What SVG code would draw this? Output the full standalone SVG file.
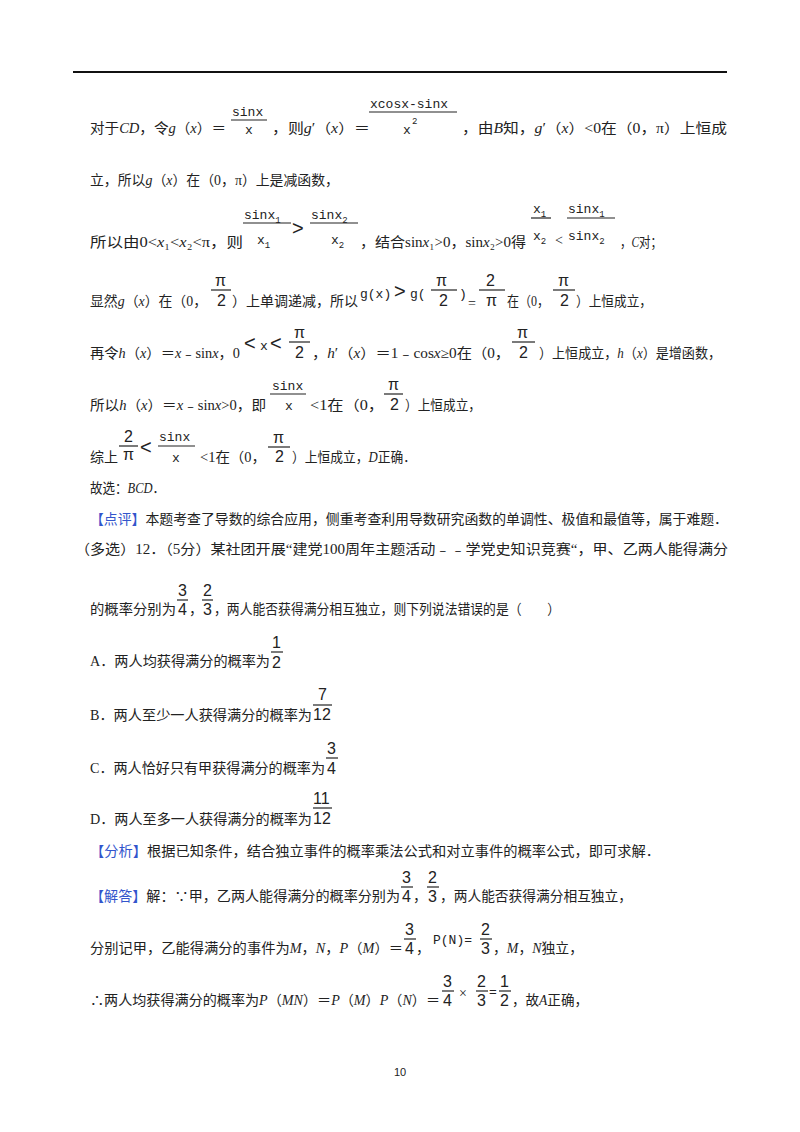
<svg xmlns="http://www.w3.org/2000/svg" width="800" height="1132" viewBox="0 0 800 1132">
<style>
text{fill:#222}
.t{font-family:"Liberation Serif","Noto Sans CJK SC",serif;font-size:14px}
.m{font-family:"Liberation Mono","DejaVu Sans Mono",monospace;font-size:13px}
.f{font-family:"Liberation Sans","Noto Sans",sans-serif;font-size:16px}
.b{fill:#3355cc}
.fl{stroke:#222;stroke-width:1.2}
.s{font-size:9px}
.lt{font-family:"Liberation Sans",sans-serif;font-size:20px}
</style>
<rect width="800" height="1132" fill="#fff"/>
<line x1="73" y1="72" x2="727" y2="72" stroke="#111" stroke-width="2"/>
<!-- row1 -->
<text class="t" x="90" y="133" textLength="136" lengthAdjust="spacingAndGlyphs">对于<tspan font-style="italic">CD</tspan>，令<tspan font-style="italic">g</tspan>（<tspan font-style="italic">x</tspan>）＝</text>
<text class="m" x="232" y="116">sinx</text><line class="fl" x1="231" y1="120" x2="267" y2="120"/><text class="m" x="245" y="134">x</text>
<text class="t" x="272" y="133" textLength="98" lengthAdjust="spacingAndGlyphs">，则<tspan font-style="italic">g</tspan>′（<tspan font-style="italic">x</tspan>）＝</text>
<text class="m" x="370" y="108">xcosx-sinx</text><line class="fl" x1="369" y1="112" x2="457" y2="112"/><text class="m" x="403" y="134">x</text><text class="m s" x="412" y="124">2</text>
<text class="t" x="462" y="133" textLength="265" lengthAdjust="spacingAndGlyphs">，由<tspan font-style="italic">B</tspan>知，<tspan font-style="italic">g</tspan>′（<tspan font-style="italic">x</tspan>）&lt;0在（0，π）上恒成</text>
<text class="t" x="90" y="185" textLength="249" lengthAdjust="spacingAndGlyphs">立，所以<tspan font-style="italic">g</tspan>（<tspan font-style="italic">x</tspan>）在（0，π）上是减函数，</text>
<!-- row3 -->
<text class="t" x="90" y="247" textLength="153" lengthAdjust="spacingAndGlyphs">所以由0&lt;<tspan font-style="italic">x</tspan>₁&lt;<tspan font-style="italic">x</tspan>₂&lt;π，则</text>
<text class="m" x="244" y="219">sinx<tspan class="s" dy="4">1</tspan></text><line class="fl" x1="243" y1="223" x2="291" y2="223"/><text class="m" x="257" y="244">x<tspan class="s" dy="4">1</tspan></text>
<text class="lt" x="292" y="235">&gt;</text>
<text class="m" x="311" y="219">sinx<tspan class="s" dy="4">2</tspan></text><line class="fl" x1="310" y1="223" x2="358" y2="223"/><text class="m" x="331" y="244">x<tspan class="s" dy="4">2</tspan></text>
<text class="t" x="360" y="247" textLength="166" lengthAdjust="spacingAndGlyphs">，结合sin<tspan font-style="italic">x</tspan>₁&gt;0，sin<tspan font-style="italic">x</tspan>₂&gt;0得</text>
<text class="m" x="533" y="213">x<tspan class="s" dy="4">1</tspan></text><line class="fl" x1="531" y1="218" x2="551" y2="218"/><text class="m" x="533" y="240">x<tspan class="s" dy="4">2</tspan></text>
<text class="t" x="555" y="245">&lt;</text>
<text class="m" x="568" y="213">sinx<tspan class="s" dy="4">1</tspan></text><line class="fl" x1="567" y1="218" x2="615" y2="218"/><text class="m" x="568" y="240">sinx<tspan class="s" dy="4">2</tspan></text>
<text class="t" x="620" y="247" textLength="42" lengthAdjust="spacingAndGlyphs">，<tspan font-style="italic">C</tspan>对；</text>
<!-- row4 -->
<text class="t" x="90" y="306" textLength="117" lengthAdjust="spacingAndGlyphs">显然<tspan font-style="italic">g</tspan>（<tspan font-style="italic">x</tspan>）在（0，</text>
<text class="f" x="215" y="286">π</text><line class="fl" x1="211" y1="290" x2="231" y2="290"/><text class="f" x="217" y="306">2</text>
<text class="t" x="232" y="306" textLength="126" lengthAdjust="spacingAndGlyphs">）上单调递减，所以</text>
<text class="m" x="360" y="298">g(x)</text><text class="lt" x="394" y="298">&gt;</text><text class="m" x="410" y="298">g(</text>
<text class="f" x="436" y="286">π</text><line class="fl" x1="431" y1="290" x2="457" y2="290"/><text class="f" x="439" y="306">2</text>
<text class="m" x="459" y="298">)</text><text class="t" x="468" y="308">=</text>
<text class="f" x="486" y="286">2</text><line class="fl" x1="479" y1="290" x2="505" y2="290"/><text class="f" x="486" y="306">π</text>
<text class="t" x="507" y="306" textLength="42" lengthAdjust="spacingAndGlyphs">在（0，</text>
<text class="f" x="558" y="286">π</text><line class="fl" x1="553" y1="290" x2="575" y2="290"/><text class="f" x="560" y="306">2</text>
<text class="t" x="576" y="306" textLength="76" lengthAdjust="spacingAndGlyphs">）上恒成立，</text>
<!-- row5 -->
<text class="t" x="90" y="358" textLength="150" lengthAdjust="spacingAndGlyphs">再令<tspan font-style="italic">h</tspan>（<tspan font-style="italic">x</tspan>）＝<tspan font-style="italic">x</tspan>﹣sin<tspan font-style="italic">x</tspan>，0</text>
<text class="lt" x="244" y="350">&lt;</text><text class="m" x="260" y="350">x</text><text class="lt" x="270" y="350">&lt;</text>
<text class="f" x="294" y="338">π</text><line class="fl" x1="289" y1="342" x2="310" y2="342"/><text class="f" x="295" y="358">2</text>
<text class="t" x="312" y="358" textLength="198" lengthAdjust="spacingAndGlyphs">，<tspan font-style="italic">h</tspan>′（<tspan font-style="italic">x</tspan>）＝1﹣cos<tspan font-style="italic">x</tspan>≥0在（0，</text>
<text class="f" x="517" y="338">π</text><line class="fl" x1="512" y1="342" x2="535" y2="342"/><text class="f" x="519" y="358">2</text>
<text class="t" x="539" y="358" textLength="182" lengthAdjust="spacingAndGlyphs">）上恒成立，<tspan font-style="italic">h</tspan>（<tspan font-style="italic">x</tspan>）是增函数，</text>
<!-- row6 -->
<text class="t" x="90" y="410" textLength="176" lengthAdjust="spacingAndGlyphs">所以<tspan font-style="italic">h</tspan>（<tspan font-style="italic">x</tspan>）＝<tspan font-style="italic">x</tspan>﹣sin<tspan font-style="italic">x</tspan>&gt;0，即</text>
<text class="m" x="272" y="390">sinx</text><line class="fl" x1="270" y1="394" x2="306" y2="394"/><text class="m" x="285" y="410">x</text>
<text class="t" x="310" y="410" textLength="74" lengthAdjust="spacingAndGlyphs">&lt;1在（0，</text>
<text class="f" x="388" y="390">π</text><line class="fl" x1="384" y1="394" x2="403" y2="394"/><text class="f" x="390" y="410">2</text>
<text class="t" x="405" y="410" textLength="76" lengthAdjust="spacingAndGlyphs">）上恒成立，</text>
<!-- row7 -->
<text class="t" x="90" y="462" textLength="28" lengthAdjust="spacingAndGlyphs">综上</text>
<text class="f" x="124" y="442">2</text><line class="fl" x1="119" y1="446" x2="138" y2="446"/><text class="f" x="123" y="460">π</text>
<text class="lt" x="140" y="454">&lt;</text>
<text class="m" x="159" y="441">sinx</text><line class="fl" x1="158" y1="446" x2="195" y2="446"/><text class="m" x="172" y="462">x</text>
<text class="t" x="200" y="462" textLength="66" lengthAdjust="spacingAndGlyphs">&lt;1在（0，</text>
<text class="f" x="273" y="443">π</text><line class="fl" x1="268" y1="447" x2="290" y2="447"/><text class="f" x="275" y="462">2</text>
<text class="t" x="292" y="462" textLength="124" lengthAdjust="spacingAndGlyphs">）上恒成立，<tspan font-style="italic">D</tspan>正确．</text>
<text class="t" x="90" y="493" textLength="75" lengthAdjust="spacingAndGlyphs">故选：<tspan font-style="italic">BCD</tspan>．</text>
<text class="t" x="90" y="524" textLength="638" lengthAdjust="spacingAndGlyphs"><tspan class="b">【点评】</tspan>本题考查了导数的综合应用，侧重考查利用导数研究函数的单调性、极值和最值等，属于难题．</text>
<text class="t" x="75" y="554" textLength="653" lengthAdjust="spacingAndGlyphs">（多选）12．（5分）某社团开展“建党100周年主题活动﹣﹣学党史知识竞赛“，甲、乙两人能得满分</text>
<!-- q -->
<text class="t" x="90" y="614" textLength="86" lengthAdjust="spacingAndGlyphs">的概率分别为</text>
<text class="f" x="178" y="596">3</text><line class="fl" x1="177" y1="600" x2="188" y2="600"/><text class="f" x="178" y="615">4</text>
<text class="t" x="189" y="614">，</text>
<text class="f" x="203" y="596">2</text><line class="fl" x1="202" y1="600" x2="213" y2="600"/><text class="f" x="203" y="615">3</text>
<text class="t" x="214" y="614" textLength="346" lengthAdjust="spacingAndGlyphs">，两人能否获得满分相互独立，则下列说法错误的是（　　）</text>
<text class="t" x="90" y="666" textLength="180" lengthAdjust="spacingAndGlyphs">A．两人均获得满分的概率为</text>
<text class="f" x="272" y="648">1</text><line class="fl" x1="271" y1="652" x2="283" y2="652"/><text class="f" x="272" y="668">2</text>
<text class="t" x="90" y="720" textLength="222" lengthAdjust="spacingAndGlyphs">B．两人至少一人获得满分的概率为</text>
<text class="f" x="318" y="700">7</text><line class="fl" x1="313" y1="705" x2="332" y2="705"/><text class="f" x="313" y="720">12</text>
<text class="t" x="90" y="773" textLength="235" lengthAdjust="spacingAndGlyphs">C．两人恰好只有甲获得满分的概率为</text>
<text class="f" x="327" y="754">3</text><line class="fl" x1="326" y1="758" x2="338" y2="758"/><text class="f" x="327" y="774">4</text>
<text class="t" x="90" y="824" textLength="222" lengthAdjust="spacingAndGlyphs">D．两人至多一人获得满分的概率为</text>
<text class="f" x="313" y="804">11</text><line class="fl" x1="313" y1="808" x2="332" y2="808"/><text class="f" x="313" y="824">12</text>
<text class="t" x="90" y="856" textLength="570" lengthAdjust="spacingAndGlyphs"><tspan class="b">【分析】</tspan>根据已知条件，结合独立事件的概率乘法公式和对立事件的概率公式，即可求解．</text>
<!-- answer -->
<text class="t" x="90" y="901" textLength="310" lengthAdjust="spacingAndGlyphs"><tspan class="b">【解答】</tspan>解：∵甲，乙两人能得满分的概率分别为</text>
<text class="f" x="402" y="883">3</text><line class="fl" x1="401" y1="887" x2="413" y2="887"/><text class="f" x="402" y="902">4</text>
<text class="t" x="413" y="901">，</text>
<text class="f" x="428" y="883">2</text><line class="fl" x1="427" y1="887" x2="439" y2="887"/><text class="f" x="428" y="902">3</text>
<text class="t" x="440" y="901" textLength="192" lengthAdjust="spacingAndGlyphs">，两人能否获得满分相互独立，</text>
<text class="t" x="90" y="953" textLength="313" lengthAdjust="spacingAndGlyphs">分别记甲，乙能得满分的事件为<tspan font-style="italic">M</tspan>，<tspan font-style="italic">N</tspan>，<tspan font-style="italic">P</tspan>（<tspan font-style="italic">M</tspan>）＝</text>
<text class="f" x="405" y="935">3</text><line class="fl" x1="404" y1="939" x2="416" y2="939"/><text class="f" x="405" y="954">4</text>
<text class="t" x="416" y="953">，</text>
<text class="m" x="433" y="944">P(N)=</text>
<text class="f" x="481" y="935">2</text><line class="fl" x1="480" y1="939" x2="492" y2="939"/><text class="f" x="481" y="954">3</text>
<text class="t" x="493" y="953" textLength="90" lengthAdjust="spacingAndGlyphs">，<tspan font-style="italic">M</tspan>，<tspan font-style="italic">N</tspan>独立，</text>
<text class="t" x="90" y="1005" textLength="350" lengthAdjust="spacingAndGlyphs">∴两人均获得满分的概率为<tspan font-style="italic">P</tspan>（<tspan font-style="italic">MN</tspan>）＝<tspan font-style="italic">P</tspan>（<tspan font-style="italic">M</tspan>）<tspan font-style="italic">P</tspan>（<tspan font-style="italic">N</tspan>）＝</text>
<text class="f" x="443" y="987">3</text><line class="fl" x1="442" y1="991" x2="454" y2="991"/><text class="f" x="443" y="1006">4</text>
<text class="t" x="459" y="998" font-size="16">×</text>
<text class="f" x="477" y="987">2</text><line class="fl" x1="476" y1="991" x2="488" y2="991"/><text class="f" x="477" y="1006">3</text>
<text class="m" x="489" y="996">=</text>
<text class="f" x="500" y="987">1</text><line class="fl" x1="499" y1="991" x2="511" y2="991"/><text class="f" x="500" y="1006">2</text>
<text class="t" x="512" y="1005" textLength="76" lengthAdjust="spacingAndGlyphs">，故<tspan font-style="italic">A</tspan>正确，</text>
<text x="400" y="1076" text-anchor="middle" font-family="Liberation Sans,sans-serif" font-size="11">10</text>
</svg>
